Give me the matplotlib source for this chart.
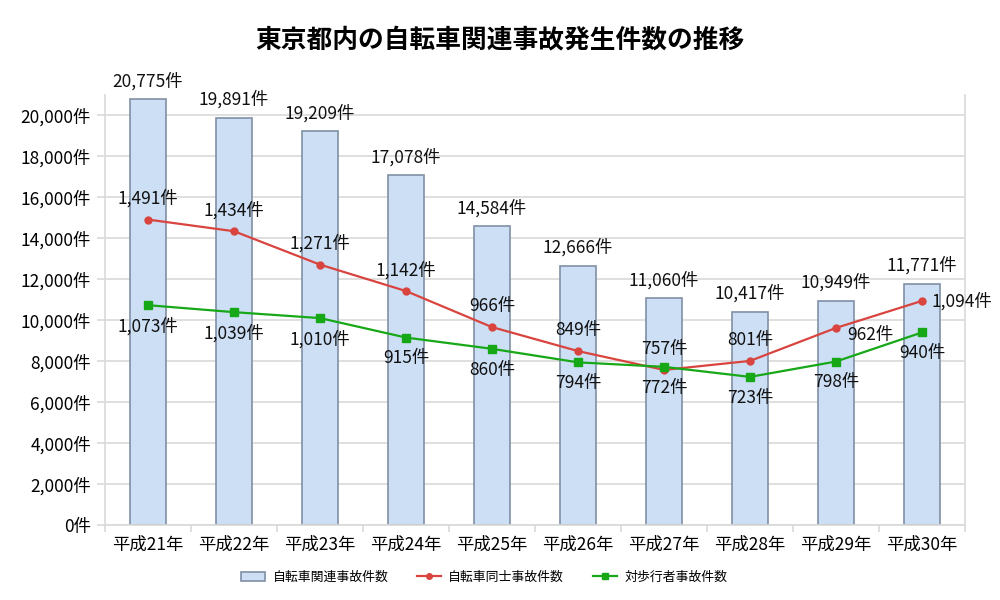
import matplotlib
matplotlib.use("Agg")
import matplotlib.pyplot as plt
from matplotlib.patches import Patch
from matplotlib.lines import Line2D
import numpy as np

plt.rcParams['font.family'] = ['Noto Sans CJK JP', 'DejaVu Sans']

years = ["平成21年", "平成22年", "平成23年", "平成24年", "平成25年",
         "平成26年", "平成27年", "平成28年", "平成29年", "平成30年"]
total = [20775, 19891, 19209, 17078, 14584, 12666, 11060, 10417, 10949, 11771]
bike_bike = [1491, 1434, 1271, 1142, 966, 849, 757, 801, 962, 1094]
bike_ped = [1073, 1039, 1010, 915, 860, 794, 772, 723, 798, 940]

title = "東京都内の自転車関連事故発生件数の推移"
series_names = ["自転車関連事故件数", "自転車同士事故件数", "対歩行者事故件数"]

bar_face = "#cddff5"
bar_edge = "#8090a4"
red = "#d9443f"
green = "#17a817"
grid_c = "#d9d9d9"
fs = 12.5

fig = plt.figure(figsize=(10, 6), dpi=100)
ax = fig.add_axes([0.105, 0.125, 0.86, 0.717])
x = np.arange(len(years))

ax.bar(x, total, width=0.41, color=bar_face, edgecolor=bar_edge, linewidth=1.2, zorder=2)
ax.set_xlim(-0.5, len(years) - 0.5)
ax.set_ylim(0, 21000)
yt = np.arange(0, 20001, 2000)
ax.set_yticks(yt)
ax.set_yticklabels([f"{v:,}件" for v in yt], fontsize=fs)
ax.set_xticks(x)
ax.set_xticklabels(years, fontsize=fs)
ax.set_xticks(np.arange(-0.5, len(years), 1), minor=True)
ax.tick_params(axis='x', which='major', length=0, pad=8)
ax.tick_params(axis='x', which='minor', length=5, color=grid_c, width=1.2)
ax.tick_params(axis='y', length=6, color=grid_c, width=1.2, pad=4)
ax.grid(axis='y', color=grid_c, linewidth=1.2, zorder=0)
ax.set_axisbelow(True)
ax.spines['top'].set_visible(False)
for s in ['left', 'right', 'bottom']:
    ax.spines[s].set_color(grid_c)
    ax.spines[s].set_linewidth(1.2)

for xi, v in zip(x, total):
    ax.annotate(f"{v:,}件", (xi, v), xytext=(0, 13), textcoords='offset points',
                ha='center', va='center', fontsize=fs, color='#111111')

ax2 = ax.twinx()
ax2.set_ylim(0, 2100)
ax2.set_xlim(-0.5, len(years) - 0.5)
ax2.axis('off')
ax2.plot(x, bike_bike, color=red, linewidth=1.6, marker='o', markersize=5, zorder=3)
ax2.plot(x, bike_ped, color=green, linewidth=1.6, marker='s', markersize=5.5, zorder=3)

red_off = [(0, 15)] * len(years)
red_off[8] = (8, -5)
red_off[9] = (7, 0)
for i, (xi, v) in enumerate(zip(x, bike_bike)):
    dx, dy = red_off[i]
    ha = 'center' if dx == 0 else 'left'
    ax2.annotate(f"{v:,}件", (xi, v), xytext=(dx, dy), textcoords='offset points',
                 ha=ha, va='center', fontsize=fs, color='#111111')
for xi, v in zip(x, bike_ped):
    ax2.annotate(f"{v:,}件", (xi, v), xytext=(0, -15), textcoords='offset points',
                 ha='center', va='center', fontsize=fs, color='#111111')

fig.text(0.5, 0.933, title, ha='center', va='center', fontsize=18.5, fontweight='bold')

handles = [Patch(facecolor=bar_face, edgecolor=bar_edge, linewidth=1.2),
           Line2D([], [], color=red, marker='o', markersize=4, linewidth=1.6),
           Line2D([], [], color=green, marker='s', markersize=5, linewidth=1.6)]
fig.legend(handles, series_names, loc='center', bbox_to_anchor=(0.484, 0.038),
           ncol=3, frameon=False, fontsize=9.3, handlelength=1.85,
           handletextpad=0.6, columnspacing=2.2)

fig.savefig("out.png", dpi=100)
